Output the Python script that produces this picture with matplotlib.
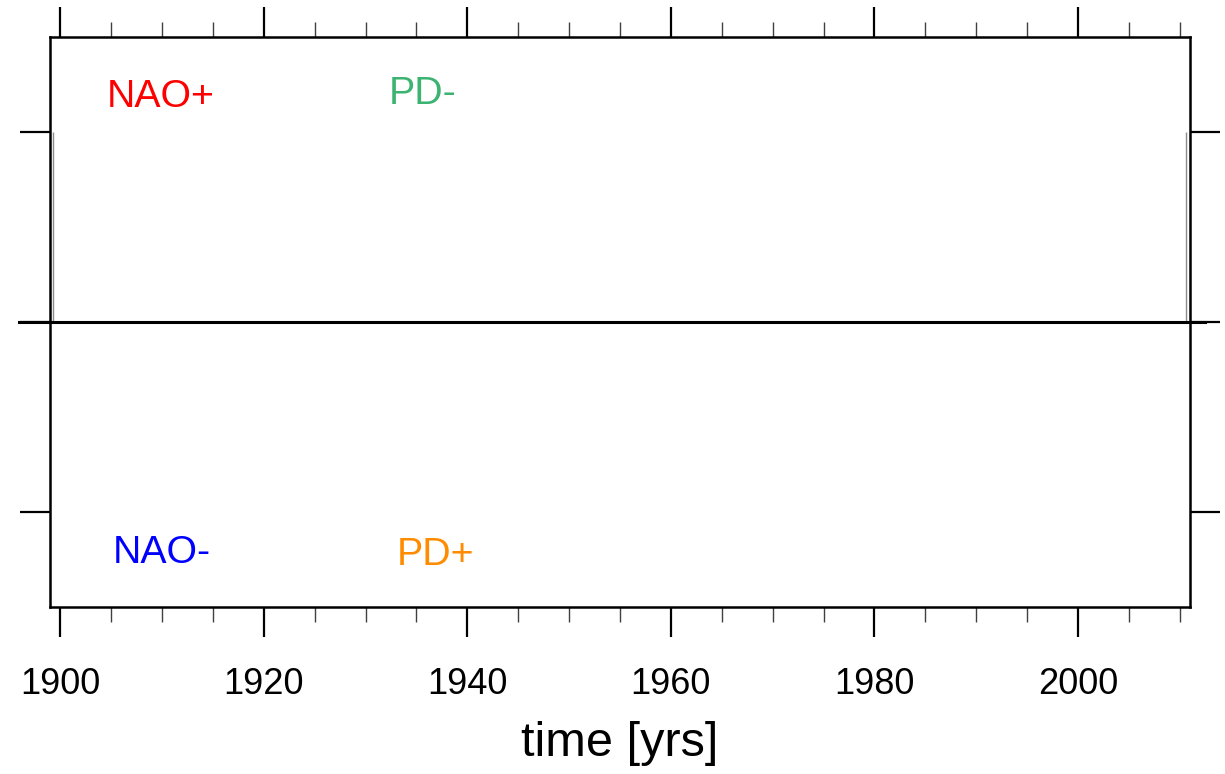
import numpy as np
import matplotlib
matplotlib.use("Agg")
from matplotlib import pyplot as plt
from matplotlib.ticker import MultipleLocator

plt.rcParams['font.family'] = ['Liberation Sans', 'DejaVu Sans']

# data (series is empty apart from the edge spikes)
edge_years = [1899.3, 2010.6]
edge_vals = [1.0, 1.0]
zero_line_x = [1896.0, 2012.5]

labels = ["NAO+", "PD-", "NAO-", "PD+"]
label_x = [1904.6, 1932.3, 1905.2, 1933.1]
label_y = [1.13, 1.15, -1.27, -1.28]
label_col = ["#ff0000", "#3cb371", "#0000ff", "#ff8c00"]

fig = plt.figure(figsize=(12.25, 7.74), dpi=100)
ax = fig.add_axes([50/1225, 1-607/774, 1140/1225, 570/774])

ax.vlines(edge_years, 0, edge_vals, color="0.55", lw=1)
ax.plot(zero_line_x, [0, 0], color="black", lw=2.2, clip_on=False, zorder=3)

for t, x, y, c in zip(labels, label_x, label_y, label_col):
	ax.text(x, y, t, color=c, fontsize=28.3, ha="left", va="baseline")

ax.set_xlim(1899, 2011)
ax.set_ylim(-1.5, 1.5)
ax.xaxis.set_major_locator(MultipleLocator(20))
ax.xaxis.set_minor_locator(MultipleLocator(5))
ax.set_yticks([-1, 0, 1])
ax.set_yticklabels([])
ax.tick_params(axis="both", which="major", direction="out", length=21.5, width=1.6,
	top=True, right=True, labelsize=26, pad=22)
ax.tick_params(axis="x", which="minor", direction="out", length=10.5, width=1,
	top=True, bottom=True, color="0.25")
for s in ax.spines.values():
	s.set_linewidth(1.8)

ax.set_xlabel("time [yrs]", fontsize=35, va="baseline")
ax.xaxis.set_label_coords(0.5, -0.261)

fig.savefig("out.png", dpi=100)
